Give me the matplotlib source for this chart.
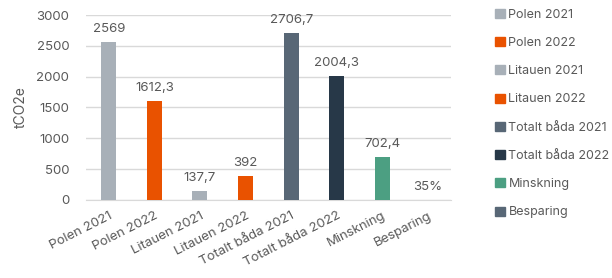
import numpy as np
import matplotlib.pyplot as plt
from matplotlib.patches import Patch

plt.rcParams['font.family'] = ['Inter', 'DejaVu Sans']

kategorier = ['Polen 2021', 'Polen 2022', 'Litauen 2021', 'Litauen 2022',
              'Totalt båda 2021', 'Totalt båda 2022', 'Minskning', 'Besparing']
verdier = [2569, 1612.3, 137.7, 392, 2706.7, 2004.3, 702.4, 0.35]
etiketter = ['2569', '1612,3', '137,7', '392', '2706,7', '2004,3', '702,4', '35%']
farger = ['#A8B0B8', '#E95200', '#A8B0B8', '#E95200',
          '#586776', '#273848', '#4C9F82', '#586776']

tekst = '#595959'

fig = plt.figure(figsize=(6.12, 2.78), dpi=100)
ax = fig.add_axes([0.1405, 0.281, 0.596, 0.665])

x = np.arange(len(kategorier))
bars = ax.bar(x, verdier, width=0.33, color=farger, zorder=3)

for xi, v, lab in zip(x, verdier, etiketter):
    ax.annotate(lab, (xi, v), xytext=(0, 5), textcoords='offset points',
                ha='center', va='bottom', fontsize=9.5, color=tekst)

ax.set_ylim(0, 3000)
ax.set_xlim(-0.5, len(kategorier) - 0.5)
ax.set_yticks(np.arange(0, 3001, 500))
ax.grid(axis='y', color='#D9D9D9', linewidth=1, zorder=0)
for s in ['top', 'right', 'left']:
    ax.spines[s].set_visible(False)
ax.spines['bottom'].set_color('#D9D9D9')
ax.tick_params(length=0, colors=tekst, labelsize=9.5)
ax.tick_params(axis='y', pad=12)
ax.tick_params(axis='x', pad=7)
ax.set_xticks(x)
ax.set_xticklabels(kategorier, rotation=27, ha='right', rotation_mode='anchor')
ax.set_ylabel('tCO2e', color=tekst, fontsize=10, labelpad=6)

handles = [Patch(color=c) for c in farger]
fig.legend(handles, kategorier, loc='upper left', bbox_to_anchor=(0.795, 1.0),
           frameon=False, fontsize=9, labelcolor=tekst, handlelength=0.75,
           handleheight=0.75, handletextpad=0.3, labelspacing=1.3,
           borderaxespad=0.3)

fig.savefig('out.png', dpi=100)
